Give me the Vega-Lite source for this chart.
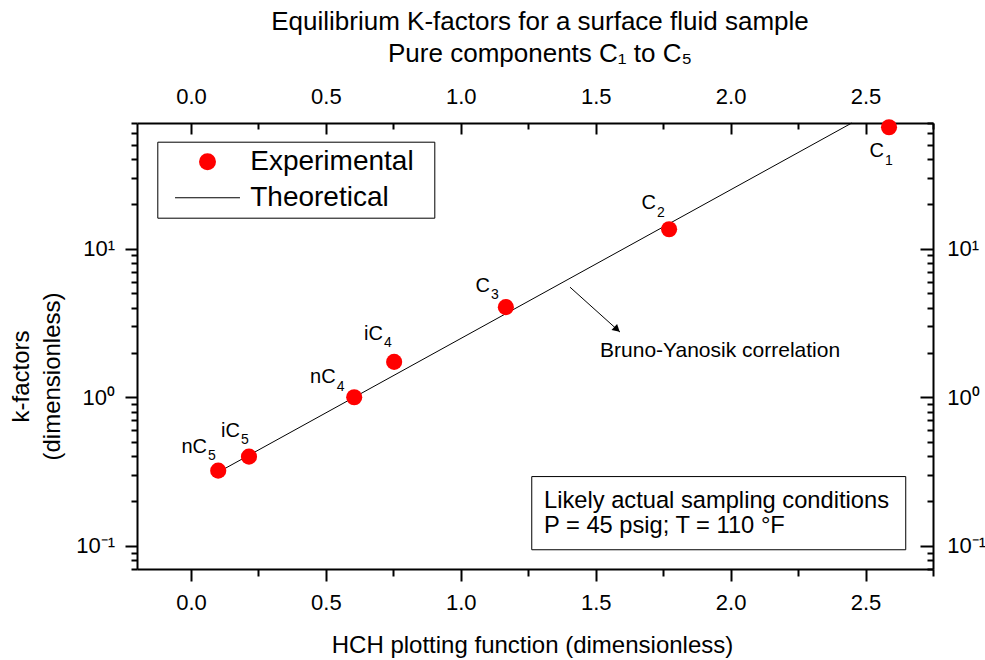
{
  "$schema": "https://vega.github.io/schema/vega-lite/v6.json",
  "width": 796,
  "height": 446,
  "autosize": {"type": "none"},
  "padding": {"left": 137, "top": 123, "right": 52, "bottom": 91},
  "background": "white",
  "config": {
    "view": {"stroke": null},
    "font": "Liberation Sans",
    "axis": {
      "grid": false,
      "domainColor": "black",
      "domainWidth": 2,
      "tickColor": "black",
      "tickWidth": 2,
      "labelColor": "black",
      "labelFont": "Liberation Sans",
      "labelFontSize": 22,
      "titleFont": "Liberation Sans",
      "titleFontSize": 24,
      "titleFontWeight": "normal",
      "titleColor": "black",
      "labelFlush": false,
      "labelOverlap": false
    }
  },
  "title": {
    "text": ["Equilibrium K-factors for a surface fluid sample", "Pure components C₁ to C₅"],
    "font": "Liberation Sans",
    "fontSize": 26,
    "fontWeight": "normal",
    "color": "black",
    "lineHeight": 32,
    "anchor": "middle",
    "baseline": "bottom",
    "offset": 20,
    "dx": 5,
    "dy": 33
  },
  "datasets": {
    "points": [
      {"name": "nC5", "x": 0.101, "k": 0.321, "series": "Experimental"},
      {"name": "iC5", "x": 0.215, "k": 0.399, "series": "Experimental"},
      {"name": "nC4", "x": 0.605, "k": 1.0, "series": "Experimental"},
      {"name": "iC4", "x": 0.753, "k": 1.73, "series": "Experimental"},
      {"name": "C3", "x": 1.167, "k": 4.04, "series": "Experimental"},
      {"name": "C2", "x": 1.772, "k": 13.5, "series": "Experimental"},
      {"name": "C1", "x": 2.587, "k": 65.6, "series": "Experimental"}
    ],
    "theory": [
      {"x": 0.105, "k": 0.3164},
      {"x": 2.449, "k": 70}
    ],
    "labels": [
      {"main": "nC", "sub": "5", "x": 0.0593, "k": 0.4246},
      {"main": "iC", "sub": "5", "x": 0.1816, "k": 0.5437},
      {"main": "nC", "sub": "4", "x": 0.5363, "k": 1.2417},
      {"main": "iC", "sub": "4", "x": 0.7116, "k": 2.426},
      {"main": "C", "sub": "3", "x": 1.1082, "k": 5.096},
      {"main": "C", "sub": "2", "x": 1.7235, "k": 18.39},
      {"main": "C", "sub": "1", "x": 2.5686, "k": 41.1}
    ],
    "box": [{"x": 1.263, "x2": 2.649, "k": 0.293, "k2": 0.0943}],
    "notes": [
      {"text": "Likely actual sampling conditions", "x": 1.3084, "k": 0.1799},
      {"text": "P = 45 psig; T = 110 °F", "x": 1.3084, "k": 0.1221}
    ],
    "arrow": [{"x": 1.4047, "k": 5.506, "x2": 1.59, "k2": 2.746}],
    "arrowhead": [{"x": 1.5789, "k": 2.861}],
    "corr": [{"text": "Bruno-Yanosik correlation", "x": 1.516, "k": 2.046}]
  },
  "layer": [
    {
      "data": {"name": "box"},
      "mark": {"type": "rect", "fill": "white", "stroke": "black", "strokeWidth": 1},
      "encoding": {
        "x": {"field": "x", "type": "quantitative", "scale": {"domain": [-0.2, 2.75], "nice": false, "zero": false}, "axis": null},
        "x2": {"field": "x2"},
        "y": {"field": "k", "type": "quantitative", "scale": {"type": "log", "domain": [0.07, 70], "nice": false}, "axis": null},
        "y2": {"field": "k2"}
      }
    },
    {
      "data": {"name": "theory"},
      "mark": {"type": "line", "color": "black", "strokeWidth": 1},
      "encoding": {
        "x": {"field": "x", "type": "quantitative", "scale": {"domain": [-0.2, 2.75], "nice": false, "zero": false},
          "axis": {
            "orient": "top",
            "title": null,
            "values": [0, 0.25, 0.5, 0.75, 1, 1.25, 1.5, 1.75, 2, 2.25, 2.5, 2.75],
            "labelExpr": "round(datum.value*4) % 2 == 0 ? format(datum.value, '.1f') : ''",
            "tickSize": {"condition": {"test": "round(datum.value*4) % 2 == 0", "value": -11}, "value": -6},
            "labelBaseline": "alphabetic",
            "labelPadding": 30.7
          }
        },
        "y": {"field": "k", "type": "quantitative", "scale": {"type": "log", "domain": [0.07, 70], "nice": false},
          "axis": {
            "orient": "right",
            "title": null,
            "values": [0.07, 0.08, 0.09, 0.1, 0.2, 0.3, 0.4, 0.5, 0.6, 0.7, 0.8, 0.9, 1, 2, 3, 4, 5, 6, 7, 8, 9, 10, 20, 30, 40, 50, 60, 70],
            "labelExpr": "datum.value == 10 ? '10¹' : datum.value == 1 ? '10⁰' : datum.value == 0.1 ? '10⁻¹' : ''",
            "tickSize": {"condition": {"test": "datum.value == 10 || datum.value == 1 || datum.value == 0.1", "value": -13}, "value": -6},
            "labelAlign": "left",
            "labelBaseline": "middle",
            "labelPadding": 26.7
          }
        }
      }
    },
    {
      "data": {"name": "points"},
      "mark": {"type": "point", "filled": true, "size": 260, "opacity": 1},
      "encoding": {
        "x": {"field": "x", "type": "quantitative", "scale": {"domain": [-0.2, 2.75], "nice": false, "zero": false},
          "axis": {
            "orient": "bottom",
            "title": "HCH plotting function (dimensionless)",
            "titleY": 83,
            "titleX": 395,
            "titleBaseline": "alphabetic",
            "values": [0, 0.25, 0.5, 0.75, 1, 1.25, 1.5, 1.75, 2, 2.25, 2.5, 2.75],
            "labelExpr": "round(datum.value*4) % 2 == 0 ? format(datum.value, '.1f') : ''",
            "tickSize": {"condition": {"test": "round(datum.value*4) % 2 == 0", "value": 12}, "value": 7},
            "labelBaseline": "alphabetic",
            "labelPadding": 28
          }
        },
        "y": {"field": "k", "type": "quantitative", "scale": {"type": "log", "domain": [0.07, 70], "nice": false},
          "axis": {
            "orient": "left",
            "title": ["k-factors", "(dimensionless)"],
            "titleAngle": -90,
            "titleX": -115.3,
            "titleY": 253,
            "titleAlign": "center",
            "titleBaseline": "middle",
            "titleLineHeight": 31,
            "values": [0.07, 0.08, 0.09, 0.1, 0.2, 0.3, 0.4, 0.5, 0.6, 0.7, 0.8, 0.9, 1, 2, 3, 4, 5, 6, 7, 8, 9, 10, 20, 30, 40, 50, 60, 70],
            "labelExpr": "datum.value == 10 ? '10¹' : datum.value == 1 ? '10⁰' : datum.value == 0.1 ? '10⁻¹' : ''",
            "tickSize": {"condition": {"test": "datum.value == 10 || datum.value == 1 || datum.value == 0.1", "value": 12}, "value": 6},
            "labelAlign": "right",
            "labelBaseline": "middle",
            "labelPadding": 10.5
          }
        },
        "color": {"field": "series", "type": "nominal",
          "scale": {"domain": ["Experimental", "Theoretical"], "range": ["#ff0000", "#000000"]},
          "legend": {
            "title": null, "orient": "none", "legendX": 20.3, "legendY": 18.7,
            "padding": 6, "rowPadding": 8, "symbolSize": 289, "symbolOffset": 30.2, "labelOffset": 28.7,
            "labelFont": "Liberation Sans", "labelFontSize": 28, "labelColor": "black", "labelLimit": 500,
            "strokeColor": "black", "fillColor": "white"
          }
        },
        "shape": {"field": "series", "type": "nominal",
          "scale": {"domain": ["Experimental", "Theoretical"], "range": ["circle", "M-3.82,-0.065H3.82V0.065H-3.82ZM25.9,0"]},
          "legend": {
            "title": null, "orient": "none", "legendX": 20.3, "legendY": 18.7,
            "padding": 6, "rowPadding": 8, "symbolSize": 289, "symbolOffset": 30.2, "labelOffset": 28.7,
            "labelFont": "Liberation Sans", "labelFontSize": 28, "labelColor": "black", "labelLimit": 500,
            "strokeColor": "black", "fillColor": "white"
          }
        }
      }
    },
    {
      "data": {"name": "labels"},
      "mark": {"type": "text", "align": "right", "baseline": "alphabetic", "font": "Liberation Sans", "fontSize": 20, "color": "black"},
      "encoding": {
        "x": {"field": "x", "type": "quantitative", "scale": {"domain": [-0.2, 2.75], "nice": false, "zero": false}, "axis": null},
        "y": {"field": "k", "type": "quantitative", "scale": {"type": "log", "domain": [0.07, 70], "nice": false}, "axis": null},
        "text": {"field": "main"}
      }
    },
    {
      "data": {"name": "labels"},
      "mark": {"type": "text", "align": "left", "baseline": "alphabetic", "font": "Liberation Sans", "fontSize": 14, "color": "black", "dx": 1, "dy": 7.3},
      "encoding": {
        "x": {"field": "x", "type": "quantitative", "scale": {"domain": [-0.2, 2.75], "nice": false, "zero": false}, "axis": null},
        "y": {"field": "k", "type": "quantitative", "scale": {"type": "log", "domain": [0.07, 70], "nice": false}, "axis": null},
        "text": {"field": "sub"}
      }
    },
    {
      "data": {"name": "notes"},
      "mark": {"type": "text", "align": "left", "baseline": "alphabetic", "font": "Liberation Sans", "fontSize": 23.7, "color": "black"},
      "encoding": {
        "x": {"field": "x", "type": "quantitative", "scale": {"domain": [-0.2, 2.75], "nice": false, "zero": false}, "axis": null},
        "y": {"field": "k", "type": "quantitative", "scale": {"type": "log", "domain": [0.07, 70], "nice": false}, "axis": null},
        "text": {"field": "text"}
      }
    },
    {
      "data": {"name": "arrow"},
      "mark": {"type": "rule", "color": "black", "strokeWidth": 1},
      "encoding": {
        "x": {"field": "x", "type": "quantitative", "scale": {"domain": [-0.2, 2.75], "nice": false, "zero": false}, "axis": null},
        "y": {"field": "k", "type": "quantitative", "scale": {"type": "log", "domain": [0.07, 70], "nice": false}, "axis": null},
        "x2": {"field": "x2"},
        "y2": {"field": "k2"}
      }
    },
    {
      "data": {"name": "arrowhead"},
      "mark": {"type": "point", "shape": "triangle-up", "filled": true, "color": "black", "size": 70, "angle": 132, "opacity": 1},
      "encoding": {
        "x": {"field": "x", "type": "quantitative", "scale": {"domain": [-0.2, 2.75], "nice": false, "zero": false}, "axis": null},
        "y": {"field": "k", "type": "quantitative", "scale": {"type": "log", "domain": [0.07, 70], "nice": false}, "axis": null}
      }
    },
    {
      "data": {"name": "corr"},
      "mark": {"type": "text", "align": "left", "baseline": "middle", "font": "Liberation Sans", "fontSize": 21, "color": "black"},
      "encoding": {
        "x": {"field": "x", "type": "quantitative", "scale": {"domain": [-0.2, 2.75], "nice": false, "zero": false}, "axis": null},
        "y": {"field": "k", "type": "quantitative", "scale": {"type": "log", "domain": [0.07, 70], "nice": false}, "axis": null},
        "text": {"field": "text"}
      }
    }
  ],
  "resolve": {"axis": {"x": "independent", "y": "independent"}}
}
